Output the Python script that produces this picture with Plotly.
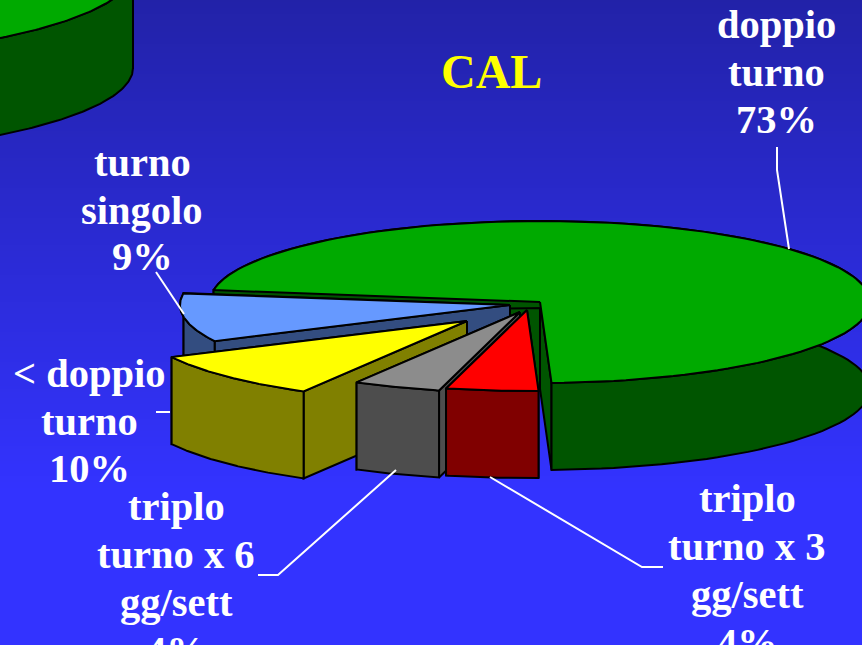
import numpy as np
import plotly.graph_objects as go

labels = ["doppio turno", "turno singolo", "< doppio turno", "triplo turno x 6", "triplo turno x 3"]
shares = [72.1, 9.7, 9.4, 4.3, 4.5]
top_colors = ["#00aa00", "#6699ff", "#ffff00", "#8c8c8c", "#ff0000"]
side_colors = ["#005500", "#334d80", "#808000", "#4d4d4d", "#800000"]

# look of the fake 3D pie
center = (540, 302)
radius_x, radius_y = 330, 81
depth = 87
start_angle = -88
explode_x = [0, -30, -73, -20, -13]
explode_y = [0, 3, 19, 10, 8]

# text blocks: line text, centre x, line centres y
text_lines = [
    ("doppio", 776, 24), ("turno", 776, 72), ("73%", 776, 119),
    ("turno", 142, 162), ("singolo", 142, 210), ("9%", 142, 257),
    ("&lt; doppio", 89, 373), ("turno", 89, 421), ("10%", 89, 468),
    ("triplo", 176, 506), ("turno x 6", 176, 554), ("gg/sett", 176, 602), ("4%", 176, 650),
    ("triplo", 747, 498), ("turno x 3", 747, 546), ("gg/sett", 747, 594), ("4%", 747, 642),
]
leaders = [
    ([777, 777, 789], [147, 170, 249]),
    ([156, 184], [272, 314]),
    ([156, 170], [412, 412]),
    ([258, 278, 396], [575, 575, 470]),
    ([663, 642, 490], [567, 567, 477]),
]

fig = go.Figure()

# background gradient, dark at the top
bg_y = list(range(0, 648, 3))
bg_z = [[min(y / 490, 1)] * 2 for y in bg_y]
fig.add_trace(go.Heatmap(x=[0, 862], y=bg_y, z=bg_z, showscale=False, hoverinfo="skip",
                         colorscale=[[0, "#2222a8"], [1, "#3333ff"]]))


def poly(xs, ys, color):
    fig.add_trace(go.Scatter(x=xs, y=ys, mode="lines", fill="toself", fillcolor=color,
                             line=dict(color="black", width=2), hoverinfo="skip", showlegend=False))


def wedge(cx, cy, rx, ry, h, t0, t1, top, side):
    t = np.radians(np.linspace(t0, t1, 120))
    ax = cx + rx * np.cos(t)
    ay = cy - ry * np.sin(t)
    # cut faces first, rim and top go over whatever should be hidden
    for i in (0, -1):
        poly([cx, ax[i], ax[i], cx, cx], [cy, ay[i], ay[i] + h, cy + h, cy], side)
    poly(list(ax) + list(ax[::-1]) + [ax[0]], list(ay) + list(ay[::-1] + h) + [ay[0]], side)
    poly([cx] + list(ax) + [cx], [cy] + list(ay) + [cy], top)


# corner of the neighbouring pie, cut by the slide
wedge(-267, -29, 400, 90, 97, -90, 0, top_colors[0], side_colors[0])

angle = start_angle
for i, share in enumerate(shares):
    end = angle + share * 3.6
    wedge(center[0] + explode_x[i], center[1] + explode_y[i], radius_x, radius_y, depth,
          angle, end, top_colors[i], side_colors[i])
    angle = end

for xs, ys in leaders:
    fig.add_trace(go.Scatter(x=xs, y=ys, mode="lines", line=dict(color="white", width=2),
                             hoverinfo="skip", showlegend=False))

for txt, x, y in text_lines:
    fig.add_annotation(text="<b>" + txt + "</b>", x=x / 862, y=1 - y / 645, xref="paper", yref="paper",
                       showarrow=False, xanchor="center", yanchor="middle",
                       font=dict(family="Liberation Serif", size=40.5, color="white"))
fig.add_annotation(text="<b>CAL</b>", x=492 / 862, y=1 - 71 / 645, xref="paper", yref="paper",
                   showarrow=False, xanchor="center", yanchor="middle",
                   font=dict(family="Liberation Serif", size=48, color="#ffff00"))

fig.update_layout(width=862, height=645, margin=dict(l=0, r=0, t=0, b=0),
                  paper_bgcolor="#3333ff", plot_bgcolor="#3333ff", showlegend=False,
                  xaxis=dict(range=[0, 862], visible=False, fixedrange=True),
                  yaxis=dict(range=[645, 0], visible=False, fixedrange=True))
fig.write_html("out.html", config={"displayModeBar": False},
               post_script="document.body.style.margin='0';document.body.style.overflow='hidden';")
